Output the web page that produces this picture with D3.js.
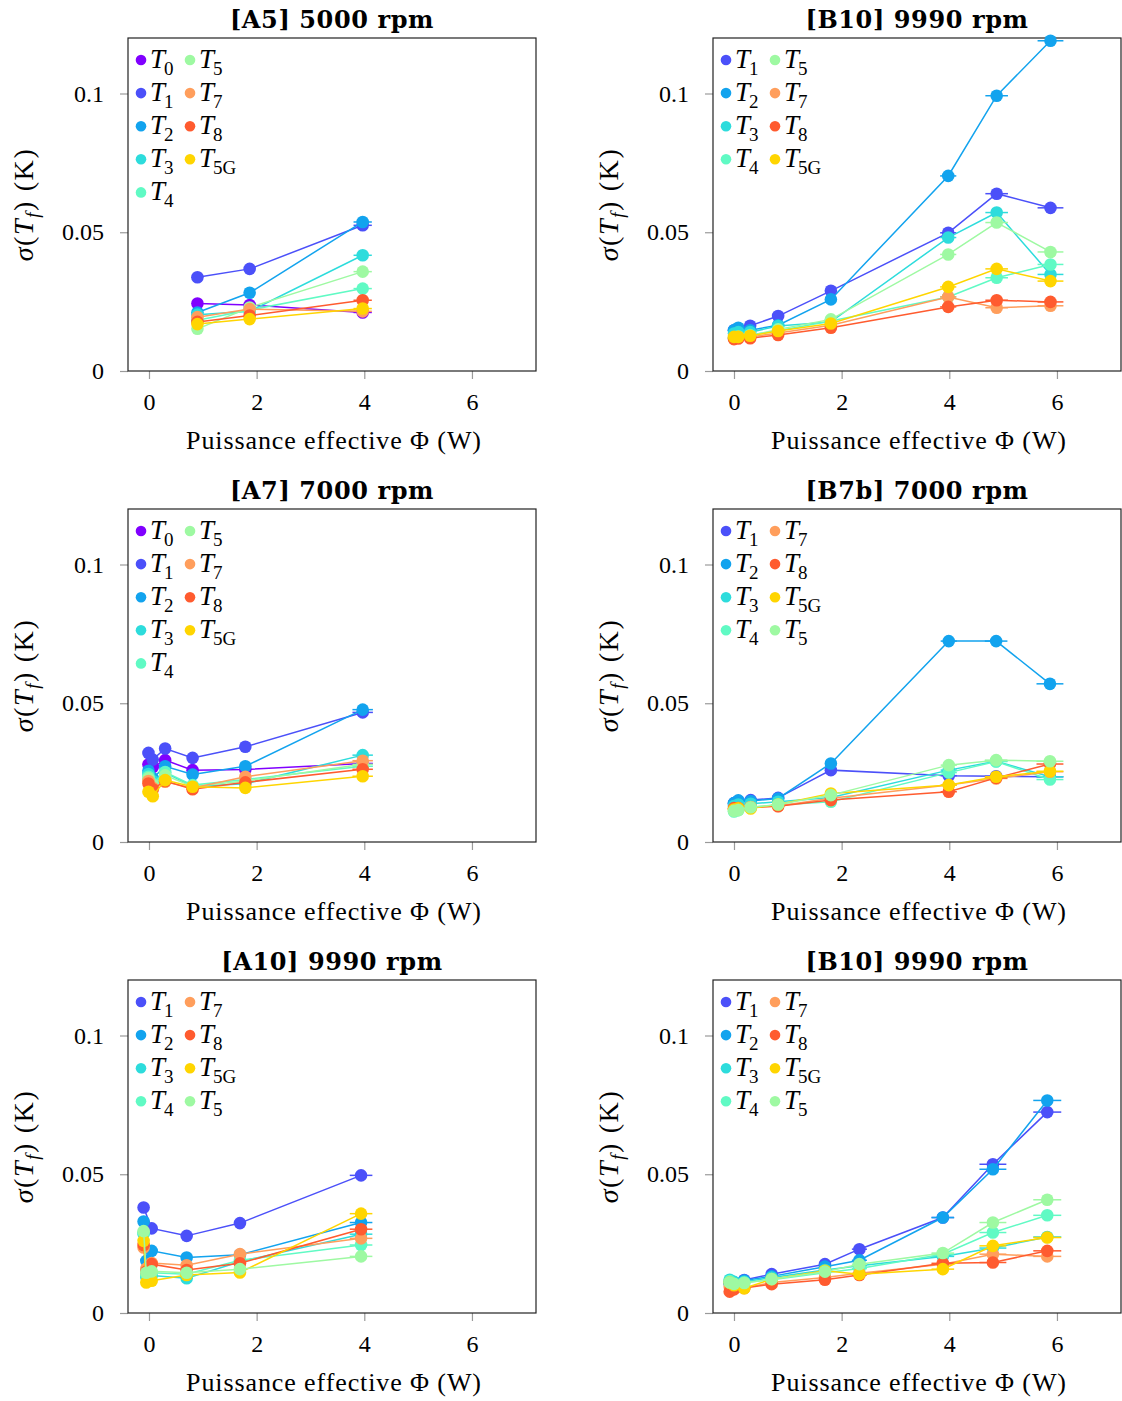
<!DOCTYPE html>
<html>
<head>
<meta charset="utf-8">
<script src="https://cdn.jsdelivr.net/npm/d3@7"></script>
<style>
  html, body { margin: 0; padding: 0; background: #fff; }
  svg { display: block; }
</style>
</head>
<body>
<svg id="chart" width="1122" height="1401"></svg>
<script>
// ---------------- DATA ----------------
const yTickValues = [0, 0.05, 0.1];
const yTickLabels = ["0", "0.05", "0.1"];
const xTickValues = [0, 2, 4, 6];
const xTickLabels = ["0", "2", "4", "6"];
const xLabel = "Puissance effective Φ (W)";

// [A5] 5000 rpm
const a5_title = ["[A5]", "5000 rpm"];
const a5_phi = [0.9, 1.87, 3.97];
const a5_xerr = [0.04, 0.08, 0.17];
const a5_series = ["T0", "T1", "T2", "T3", "T4", "T5", "T7", "T8", "T5G"];
const a5_values = [
  [0.0243, 0.0238, 0.0211],
  [0.0338, 0.0368, 0.0525],
  [0.0211, 0.0282, 0.0537],
  [0.0203, 0.0215, 0.0417],
  [0.0183, 0.0220, 0.0297],
  [0.0152, 0.0229, 0.0358],
  [0.0194, 0.0223, 0.0215],
  [0.0177, 0.0200, 0.0255],
  [0.0169, 0.0187, 0.0225]
];

// [B10] 9990 rpm (top)
const b10a_title = ["[B10]", "9990 rpm"];
const b10a_phi = [0, 0.08, 0.3, 0.82, 1.8, 3.98, 4.88, 5.88];
const b10a_xerr = [0, 0, 0.01, 0.03, 0.07, 0.15, 0.21, 0.24];
const b10a_series = ["T1", "T2", "T3", "T4", "T5", "T7", "T8", "T5G"];
const b10a_values = [
  [0.0147, 0.0152, 0.0163, 0.0198, 0.0289, 0.0498, 0.0639, 0.0588],
  [0.0147, 0.0156, 0.0147, 0.0165, 0.0258, 0.0703, 0.0992, 0.1190],
  [0.0135, 0.0140, 0.0140, 0.0162, 0.0177, 0.0481, 0.0571, 0.0348],
  [0.0120, 0.0125, 0.0130, 0.0145, 0.0180, 0.0267, 0.0336, 0.0384],
  [0.0118, 0.0122, 0.0127, 0.0150, 0.0186, 0.0420, 0.0535, 0.0429],
  [0.0120, 0.0122, 0.0123, 0.0137, 0.0165, 0.0267, 0.0228, 0.0235],
  [0.0115, 0.0117, 0.0118, 0.0130, 0.0156, 0.0231, 0.0255, 0.0249],
  [0.0123, 0.0123, 0.0127, 0.0144, 0.0171, 0.0303, 0.0368, 0.0324]
];

// [A7] 7000 rpm
const a7_title = ["[A7]", "7000 rpm"];
const a7_phi = [-0.01, 0.07, 0.3, 0.81, 1.79, 3.97];
const a7_xerr = [0, 0, 0.01, 0.03, 0.07, 0.19];
const a7_series = ["T0", "T1", "T2", "T3", "T4", "T5", "T7", "T8", "T5G"];
const a7_values = [
  [0.0279, 0.0270, 0.0295, 0.0259, 0.0261, 0.0283],
  [0.0321, 0.0297, 0.0337, 0.0303, 0.0343, 0.0467],
  [0.0257, 0.0230, 0.0273, 0.0243, 0.0273, 0.0477],
  [0.0245, 0.0220, 0.0250, 0.0200, 0.0210, 0.0313],
  [0.0235, 0.0210, 0.0252, 0.0205, 0.0225, 0.0273],
  [0.0230, 0.0205, 0.0240, 0.0200, 0.0220, 0.0280],
  [0.0220, 0.0195, 0.0217, 0.0195, 0.0235, 0.0293],
  [0.0211, 0.0190, 0.0220, 0.0190, 0.0215, 0.0262],
  [0.0181, 0.0165, 0.0223, 0.0199, 0.0195, 0.0237]
];

// [B7b] 7000 rpm
const b7b_title = ["[B7b]", "7000 rpm"];
const b7b_phi = [0, 0.08, 0.31, 0.82, 1.8, 3.99, 4.87, 5.87];
const b7b_xerr = [0, 0, 0.01, 0.03, 0.07, 0.15, 0.21, 0.25];
const b7b_series = ["T1", "T2", "T3", "T4", "T7", "T8", "T5G", "T5"];
const b7b_values = [
  [0.0140, 0.0148, 0.0151, 0.0159, 0.0259, 0.0239, 0.0237, 0.0235],
  [0.0140, 0.0150, 0.0148, 0.0157, 0.0283, 0.0724, 0.0724, 0.0570],
  [0.0130, 0.0135, 0.0138, 0.0145, 0.0160, 0.0259, 0.0291, 0.0235],
  [0.0110, 0.0115, 0.0125, 0.0133, 0.0145, 0.0250, 0.0290, 0.0225],
  [0.0120, 0.0122, 0.0126, 0.0130, 0.0158, 0.0205, 0.0229, 0.0253],
  [0.0122, 0.0122, 0.0124, 0.0129, 0.0151, 0.0181, 0.0231, 0.0281],
  [0.0117, 0.0121, 0.0121, 0.0135, 0.0175, 0.0205, 0.0235, 0.0255],
  [0.0112, 0.0115, 0.0125, 0.0135, 0.0169, 0.0277, 0.0295, 0.0291]
];

// [A10] 9990 rpm
const a10_title = ["[A10]", "9990 rpm"];
const a10_phi = [-0.1, -0.05, 0.05, 0.7, 1.69, 3.94];
const a10_xerr = [0, 0, 0, 0.03, 0.07, 0.21];
const a10_series = ["T1", "T2", "T3", "T4", "T7", "T8", "T5G", "T5"];
const a10_values = [
  [0.0380, null,   0.0305, 0.0278, 0.0324, 0.0496],
  [0.0330, 0.0188, 0.0224, 0.0200, 0.0210, 0.0326],
  [0.0285, 0.0130, 0.0135, 0.0125, 0.0185, 0.0284],
  [0.0290, 0.0140, 0.0145, 0.0140, 0.0190, 0.0245],
  [0.0236, 0.0160, 0.0180, 0.0172, 0.0212, 0.0269],
  [0.0245, 0.0149, 0.0176, 0.0155, 0.0179, 0.0302],
  [0.0260, 0.0110, 0.0116, 0.0137, 0.0146, 0.0358],
  [0.0295, 0.0145, 0.0150, 0.0145, 0.0158, 0.0204]
];

// [B10] 9990 rpm (bottom)
const b10b_title = ["[B10]", "9990 rpm"];
const b10b_phi = [-0.08, 0.0, 0.19, 0.7, 1.69, 2.33, 3.88, 4.81, 5.82];
const b10b_xerr = [0, 0, 0.01, 0.04, 0.09, 0.14, 0.21, 0.25, 0.26];
const b10b_series = ["T1", "T2", "T3", "T4", "T7", "T8", "T5G", "T5"];
const b10b_values = [
  [0.0108, 0.0110, 0.0119, 0.0140, 0.0176, 0.0230, 0.0344, 0.0536, 0.0724],
  [0.0105, 0.0110, 0.0117, 0.0132, 0.0167, 0.0190, 0.0344, 0.0518, 0.0766],
  [0.0120, 0.0112, 0.0112, 0.0128, 0.0155, 0.0170, 0.0204, 0.0234, 0.0274],
  [0.0115, 0.0105, 0.0110, 0.0120, 0.0145, 0.0160, 0.0212, 0.0290, 0.0352],
  [0.0095, 0.0092, 0.0090, 0.0110, 0.0128, 0.0143, 0.0176, 0.0212, 0.0204],
  [0.0077, 0.0085, 0.0090, 0.0104, 0.0120, 0.0137, 0.0179, 0.0182, 0.0224],
  [0.0110, 0.0100, 0.0089, 0.0122, 0.0152, 0.0140, 0.0158, 0.0242, 0.0272],
  [0.0110, 0.0105, 0.0108, 0.0122, 0.0149, 0.0176, 0.0216, 0.0326, 0.0408]
];

// ---------------- STYLE ----------------
const colors = {
  T0: "#8000ff", T1: "#4b50f9", T2: "#12a3ee", T3: "#2ddcdc", T4: "#60fac4",
  T5: "#9ef9a2", T7: "#ff9e5c", T8: "#ff5b2f", T5G: "#ffd500"
};
const serif = "'Liberation Serif', 'Times New Roman', serif";
const titleFont = "'DejaVu Serif', 'Liberation Serif', serif";

const panels = [
  { col: 0, row: 0, title: a5_title, phi: a5_phi, xerr: a5_xerr, series: a5_series, values: a5_values },
  { col: 1, row: 0, title: b10a_title, phi: b10a_phi, xerr: b10a_xerr, series: b10a_series, values: b10a_values },
  { col: 0, row: 1, title: a7_title, phi: a7_phi, xerr: a7_xerr, series: a7_series, values: a7_values },
  { col: 1, row: 1, title: b7b_title, phi: b7b_phi, xerr: b7b_xerr, series: b7b_series, values: b7b_values },
  { col: 0, row: 2, title: a10_title, phi: a10_phi, xerr: a10_xerr, series: a10_series, values: a10_values },
  { col: 1, row: 2, title: b10b_title, phi: b10b_phi, xerr: b10b_xerr, series: b10b_series, values: b10b_values }
];

const colLeft = [128, 713];
const rowTop = [38, 509, 980];
const W = 408, H = 333;

const svg = d3.select("#chart");

function addTLabel(sel, name, big, small) {
  sel.append("tspan").attr("font-style", "italic").attr("font-size", big).text("T");
  sel.append("tspan").attr("font-size", small).attr("dy", big * 0.25).attr("dx", -1).text(name.slice(1));
}

panels.forEach(p => {
  const left = colLeft[p.col], top = rowTop[p.row];
  const g = svg.append("g").attr("transform", `translate(${left},${top})`);
  const x = d3.scaleLinear().domain([-0.39, 7.19]).range([0, W]);
  const y = d3.scaleLinear().domain([0, 0.12]).range([H, 0]);

  // axes
  const ya = g.append("g")
    .call(d3.axisLeft(y).tickValues(yTickValues).tickFormat((d, i) => yTickLabels[i]).tickSize(8).tickPadding(16).tickSizeOuter(0));
  const xa = g.append("g").attr("transform", `translate(0,${H})`)
    .call(d3.axisBottom(x).tickValues(xTickValues).tickFormat((d, i) => xTickLabels[i]).tickSize(8).tickPadding(14).tickSizeOuter(0));
  [ya, xa].forEach(a => {
    a.attr("font-family", serif);
    a.select(".domain").remove();
    a.selectAll(".tick line").attr("stroke", "#9a9a9a").attr("stroke-width", 1.2);
    a.selectAll(".tick text").attr("font-family", serif).attr("font-size", 24).attr("fill", "#000");
  });

  // box
  g.append("rect").attr("x", 0).attr("y", 0).attr("width", W).attr("height", H)
    .attr("fill", "none").attr("stroke", "#222").attr("stroke-width", 1.2);

  // title
  g.append("text").attr("x", W / 2).attr("y", -10).attr("text-anchor", "middle")
    .attr("font-family", titleFont).attr("font-weight", "bold").attr("font-size", 24)
    .attr("letter-spacing", 0.6).attr("fill", "#000")
    .text(p.title[0] + " " + p.title[1]);

  // x label
  g.append("text").attr("x", W / 2 + 2).attr("y", H + 78).attr("text-anchor", "middle")
    .attr("font-family", serif).attr("font-size", 26).attr("letter-spacing", 0.9).attr("fill", "#000")
    .text(xLabel);

  // y label
  const yl = g.append("text").attr("transform", `translate(-95,${H / 2}) rotate(-90)`)
    .attr("text-anchor", "middle").attr("font-family", serif).attr("font-size", 28)
    .attr("letter-spacing", 1.6).attr("fill", "#000");
  yl.append("tspan").attr("font-style", "italic").text("σ");
  yl.append("tspan").text("(");
  yl.append("tspan").attr("font-style", "italic").text("T");
  yl.append("tspan").attr("font-style", "italic").attr("font-size", 19).attr("dy", 6).text("f");
  yl.append("tspan").attr("dy", -6).text(") (K)");

  const line = d3.line().x(d => x(d[0])).y(d => y(d[1]));

  // series
  p.series.forEach((name, si) => {
    const pts = p.phi.map((ph, i) => [ph, p.values[si][i], p.xerr[i]]).filter(d => d[1] !== null);
    const sg = g.append("g");
    sg.append("path").datum(pts).attr("d", line).attr("fill", "none")
      .attr("stroke", colors[name]).attr("stroke-width", 1.5);
    sg.selectAll("line.err").data(pts.filter(d => d[2] > 0)).enter().append("line")
      .attr("x1", d => x(d[0] - d[2])).attr("x2", d => x(d[0] + d[2]))
      .attr("y1", d => y(d[1])).attr("y2", d => y(d[1]))
      .attr("stroke", colors[name]).attr("stroke-width", 1.5);
    sg.selectAll("circle").data(pts).enter().append("circle")
      .attr("cx", d => x(d[0])).attr("cy", d => y(d[1])).attr("r", 6.3)
      .attr("fill", colors[name]);
  });

  // legend (column-major)
  const nrows = Math.ceil(p.series.length / 2);
  p.series.forEach((name, i) => {
    const c = Math.floor(i / nrows), r = i % nrows;
    const lx = 13 + c * 49, ly = 22 + r * 33.1;
    g.append("circle").attr("cx", lx).attr("cy", ly).attr("r", 5.3).attr("fill", colors[name]);
    const tx = g.append("text").attr("x", lx + 9).attr("y", ly + 8)
      .attr("font-family", serif).attr("fill", "#000");
    addTLabel(tx, name, 27, 19);
  });
});
</script>
</body>
</html>
